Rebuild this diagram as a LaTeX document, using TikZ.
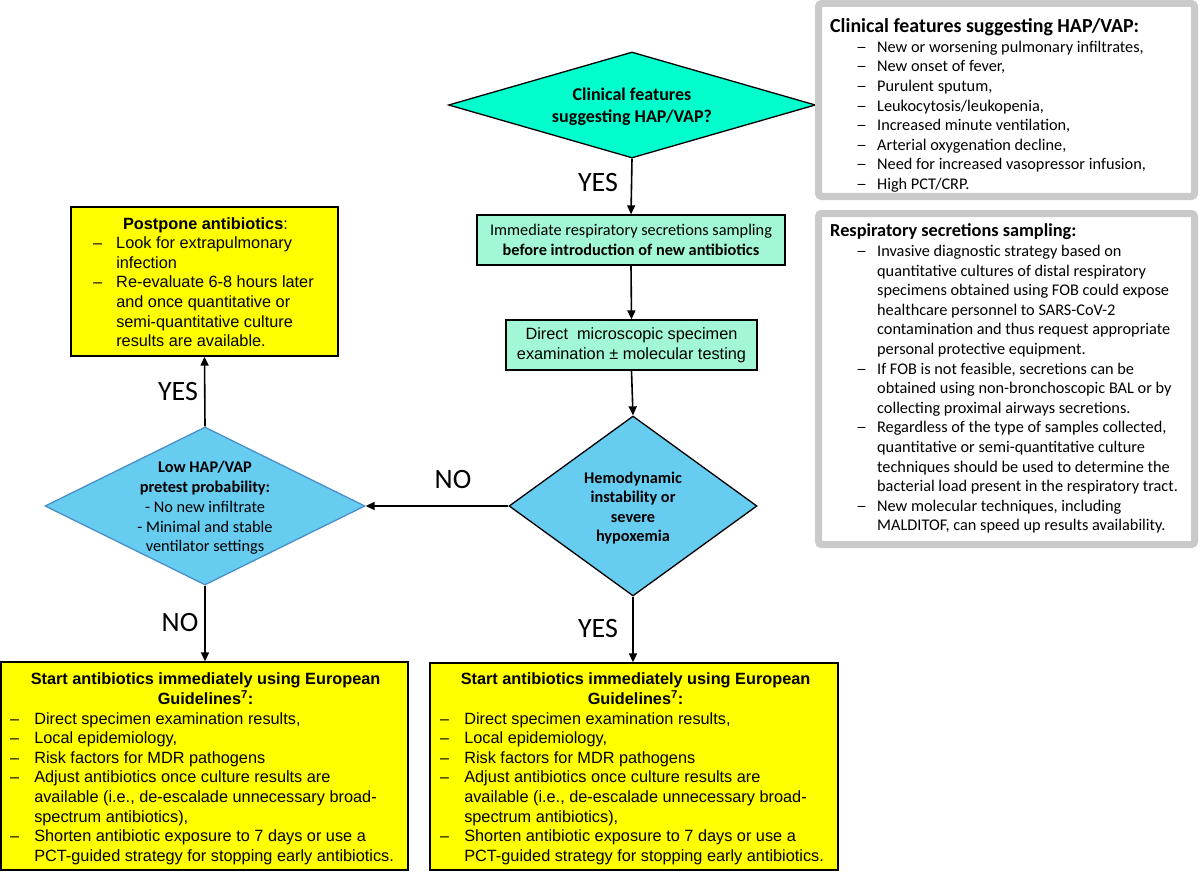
\documentclass[tikz,border=0pt]{standalone}
\usepackage{fontspec}
\setmainfont{Carlito}
\newfontfamily\arialf{Liberation Sans}
\usetikzlibrary{shapes.geometric,arrows.meta}
\definecolor{aqua}{HTML}{00FFCC}
\definecolor{mint}{HTML}{A2F8D4}
\definecolor{skyb}{HTML}{66CCF0}
\definecolor{skyedge}{HTML}{4A8FC9}
\definecolor{yel}{HTML}{FFFF00}
\definecolor{greyb}{HTML}{CACACA}
\newcommand{\gdash}{\hspace{26pt}\scalebox{1.35}[1.0]{–}}
\tikzset{
  dmd/.style={diamond, shape aspect=1, inner sep=0pt, draw=black, line width=1.3pt},
  gbox/.style={rectangle, draw=black, line width=1.3pt, fill=mint, inner sep=0pt, align=center, font=\fontsize{16.3}{19.6}\selectfont},
  ybox/.style={rectangle, draw=black, line width=1.3pt, fill=yel, inner sep=0pt},
  greybox/.style={rectangle, draw=greyb, line width=7pt, rounded corners=3pt, fill=white, inner sep=0pt},
  dtext/.style={align=center, inner sep=0pt, font=\bfseries\fontsize{16.3}{19.6}\selectfont},
  lbl/.style={inner sep=0pt, font=\fontsize{28}{30}\selectfont},
  listtext/.style={inner sep=0pt, anchor=west},
  arr/.style={-{Triangle[length=9pt,width=8pt]}, line width=1.6pt, draw=black}
}
\begin{document}
\begin{tikzpicture}[x=1pt,y=-1pt]
\useasboundingbox (0,0) rectangle (1200,872);
% shapes
\node[dmd, fill=aqua, minimum width=367pt, minimum height=106pt] (d1) at (632,105) {};
\node[gbox, minimum width=308pt, minimum height=50pt] (b1) at (631,240)
  {Immediate respiratory secretions sampling\\\textbf{before introduction of new antibiotics}};
\node[gbox, minimum width=251pt, minimum height=50pt, font=\arialf\fontsize{16.3}{19.6}\selectfont] (b2) at (631.5,345)
  {Direct\ \ microscopic specimen\\examination ± molecular testing};
\node[dmd, fill=skyb, minimum width=248pt, minimum height=180pt] (d2) at (633,506) {};
\node[dmd, fill=skyb, draw=skyedge, minimum width=320pt, minimum height=158pt] (d3) at (205,506) {};
\node[ybox, minimum width=267pt, minimum height=149pt] (pp) at (204.5,281.5) {};
\node[ybox, minimum width=407pt, minimum height=208pt] (bl) at (204.5,766) {};
\node[ybox, minimum width=408pt, minimum height=207pt] (br) at (634,766.5) {};
\node[greybox, minimum width=376pt, minimum height=193pt] (g1) at (1006.5,100) {};
\node[greybox, minimum width=376pt, minimum height=331pt] (g2) at (1006.5,379) {};

% diamond texts
\node[dtext, font=\bfseries\fontsize{18}{22}\selectfont] (t1) at (632,107) {Clinical features\\suggesting HAP/VAP?};
\node[dtext] (t2) at (633,508) {Hemodynamic\\instability or\\severe\\hypoxemia};
\node[dtext, font=\fontsize{16.3}{19.7}\selectfont] (t3) at (205,508)
  {\textbf{Low HAP/VAP}\\\textbf{pretest probability:}\\- No new infiltrate\\- Minimal and stable\\ventilator settings};

% postpone text
\node[listtext, font=\arialf\fontsize{16.3}{19.6}\selectfont] (tp) at (93,284) {%
\begin{tabular}{@{}l@{\hspace{14pt}}l@{}}
\multicolumn{2}{@{}c@{}}{\hspace{4pt}\textbf{Postpone antibiotics}:}\\
– & Look for extrapulmonary\\
  & infection\\
– & Re-evaluate 6-8 hours later\\
  & and once quantitative or\\
  & semi-quantitative culture\\
  & results are available.
\end{tabular}};

% bottom left text
\node[listtext, font=\arialf\fontsize{16.3}{19.6}\selectfont] (tbl) at (10,769) {%
\begin{tabular}{@{}l@{\hspace{15pt}}l@{}}
\multicolumn{2}{@{}c@{}}{\hspace{7pt}\textbf{Start antibiotics immediately using European}}\\
\multicolumn{2}{@{}c@{}}{\hspace{7pt}\textbf{Guidelines\textsuperscript{7}:}}\\
– & Direct specimen examination results,\\
– & Local epidemiology,\\
– & Risk factors for MDR pathogens\\
– & Adjust antibiotics once culture results are\\
  & available (i.e., de-escalade unnecessary broad-\\
  & spectrum antibiotics),\\
– & Shorten antibiotic exposure to 7 days or use a\\
  & PCT-guided strategy for stopping early antibiotics.
\end{tabular}};

% bottom right text
\node[listtext, font=\arialf\fontsize{16.3}{19.6}\selectfont] (tbr) at (440,769) {%
\begin{tabular}{@{}l@{\hspace{15pt}}l@{}}
\multicolumn{2}{@{}c@{}}{\hspace{7pt}\textbf{Start antibiotics immediately using European}}\\
\multicolumn{2}{@{}c@{}}{\hspace{7pt}\textbf{Guidelines\textsuperscript{7}:}}\\
– & Direct specimen examination results,\\
– & Local epidemiology,\\
– & Risk factors for MDR pathogens\\
– & Adjust antibiotics once culture results are\\
  & available (i.e., de-escalade unnecessary broad-\\
  & spectrum antibiotics),\\
– & Shorten antibiotic exposure to 7 days or use a\\
  & PCT-guided strategy for stopping early antibiotics.
\end{tabular}};

% grey box texts
\node[listtext, font=\fontsize{16.3}{19.6}\selectfont] (tg1) at (830,107) {%
\begin{tabular}{@{}l@{\hspace{10pt}}l@{}}
\multicolumn{2}{@{}l@{}}{\bfseries\fontsize{19.9}{19.6}\selectfont Clinical features suggesting HAP/VAP:}\\
\gdash & New or worsening pulmonary infiltrates,\\
\gdash & New onset of fever,\\
\gdash & Purulent sputum,\\
\gdash & Leukocytosis/leukopenia,\\
\gdash & Increased minute ventilation,\\
\gdash & Arterial oxygenation decline,\\
\gdash & Need for increased vasopressor infusion,\\
\gdash & High PCT/CRP.
\end{tabular}};

\node[listtext, font=\fontsize{16.3}{19.6}\selectfont] (tg2) at (830,380) {%
\begin{tabular}{@{}l@{\hspace{10pt}}l@{}}
\multicolumn{2}{@{}l@{}}{\bfseries\fontsize{18.3}{19.6}\selectfont Respiratory secretions sampling:}\\
\gdash & Invasive diagnostic strategy based on\\
  & quantitative cultures of distal respiratory\\
  & specimens obtained using FOB could expose\\
  & healthcare personnel to SARS-CoV-2\\
  & contamination and thus request appropriate\\
  & personal protective equipment.\\
\gdash & If FOB is not feasible, secretions can be\\
  & obtained using non-bronchoscopic BAL or by\\
  & collecting proximal airways secretions.\\
\gdash & Regardless of the type of samples collected,\\
  & quantitative or semi-quantitative culture\\
  & techniques should be used to determine the\\
  & bacterial load present in the respiratory tract.\\
\gdash & New molecular techniques, including\\
  & MALDITOF, can speed up results availability.
\end{tabular}};

% connectors
\draw[arr] (d1.south) -- (b1.north);
\draw[arr] (b1.south) -- (b2.north);
\draw[arr] (b2.south) -- (d2.north);
\draw[arr] (d2.west) -- (d3.east);
\draw[arr] (d3.north) -- (pp.south);
\draw[arr] (d3.south) -- (bl.north -| d3.south);
\draw[arr] (d2.south) -- (br.north -| d2.south);

% labels
\node[lbl] (y1) at (598,183) {YES};
\node[lbl] (y2) at (178,392) {YES};
\node[lbl] (n1) at (180,623) {NO};
\node[lbl] (n2) at (453,480) {NO};
\node[lbl] (y3) at (598,629) {YES};
\end{tikzpicture}
\end{document}
